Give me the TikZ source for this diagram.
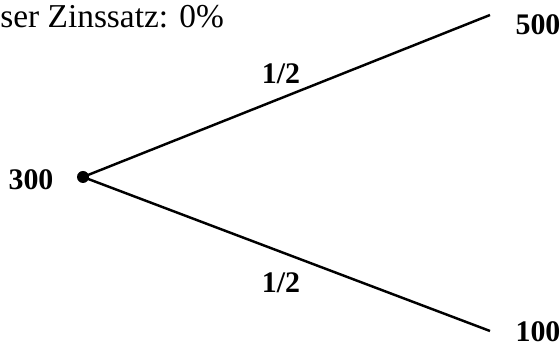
\documentclass[tikz,border=0pt]{standalone}
\usepackage{fontspec}
\setmainfont{Liberation Serif}
\usetikzlibrary{positioning}
\tikzset{
  knot/.style={circle, fill=black, inner sep=0pt, minimum size=2.4mm},
  val/.style={font=\fontsize{17}{20}\selectfont\bfseries},
  prob/.style={font=\fontsize{17}{20}\selectfont\bfseries},
  ast/.style={black, line width=1.4pt},
  ttl/.style={font=\fontsize{19}{22}\selectfont, anchor=west, inner sep=0pt},
}
\begin{document}
\begin{tikzpicture}
  \useasboundingbox (0,0) rectangle (11.2,6.94);
  \node[ttl] (zins) at (0,6.60) {ser Zinssatz: 0\%};
  % tree
  \node[knot] (root) at (1.66,3.40) {};
  \coordinate (up) at (9.80,6.64);
  \coordinate (down) at (9.80,0.32);
  \draw[ast] (root.center) -- (up);
  \draw[ast] (root.center) -- (down);
  \node[val] (s0) at (0.62,3.34) {300};
  \node[val] (su) at (10.76,6.44) {500};
  \node[val] (sd) at (10.76,0.31) {100};
  \node[prob] (pu) at (5.62,5.46) {1/2};
  \node[prob] (pd) at (5.62,1.28) {1/2};
\end{tikzpicture}
\end{document}
